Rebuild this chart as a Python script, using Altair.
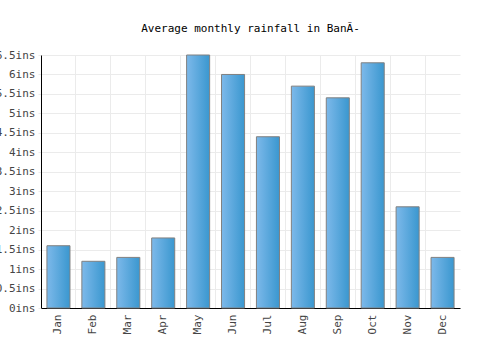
import altair as alt
import pandas as pd

months = ["Jan", "Feb", "Mar", "Apr", "May", "Jun", "Jul", "Aug", "Sep", "Oct", "Nov", "Dec"]
rainfall = [1.6, 1.2, 1.3, 1.8, 6.5, 6.0, 4.4, 5.7, 5.4, 6.3, 2.6, 1.3]
y_ticks = [0, 0.5, 1, 1.5, 2, 2.5, 3, 3.5, 4, 4.5, 5, 5.5, 6, 6.5]

df = pd.DataFrame({"month": months, "rain": rainfall})

FONT = "DejaVu Sans Mono"

grad = alt.Gradient(
    gradient="linear",
    stops=[alt.GradientStop(color="#7db9ea", offset=0), alt.GradientStop(color="#3a97cf", offset=1)],
    x1=0, x2=1, y1=0, y2=0,
)

chart = alt.Chart(df).mark_bar(
    color=grad, stroke="#808080", strokeWidth=1, width=alt.RelativeBandSize(0.66)
).encode(
    x=alt.X("month:N", sort=months, title=None,
            scale=alt.Scale(paddingInner=0, paddingOuter=0),
            axis=alt.Axis(labelAngle=-90, bandPosition=0, grid=True, gridColor="#ebebeb",
                          domainColor="#000000", ticks=False, labelPadding=6,
                          labelFont=FONT, labelFontSize=11, labelColor="#444444")),
    y=alt.Y("rain:Q", title=None,
            scale=alt.Scale(domain=[0, 6.5], nice=False),
            axis=alt.Axis(values=y_ticks, labelExpr="datum.value + 'ins'", grid=True,
                          gridColor="#ebebeb", domainColor="#000000", tickSize=3,
                          tickColor="#ebebeb", labelPadding=3,
                          labelFont=FONT, labelFontSize=11, labelColor="#444444")),
).properties(
    width=419, height=253,
    title=alt.TitleParams("Average monthly rainfall in BanÃ-", font=FONT, fontSize=11,
                          fontWeight="normal", color="#000000", anchor="middle", offset=15),
    autosize=alt.AutoSizeParams(type="none"),
    padding={"left": 41, "top": 55, "right": 40, "bottom": 42},
).configure_view(stroke=None)

chart.save("out.html", embed_options={"renderer": "svg", "actions": False})
